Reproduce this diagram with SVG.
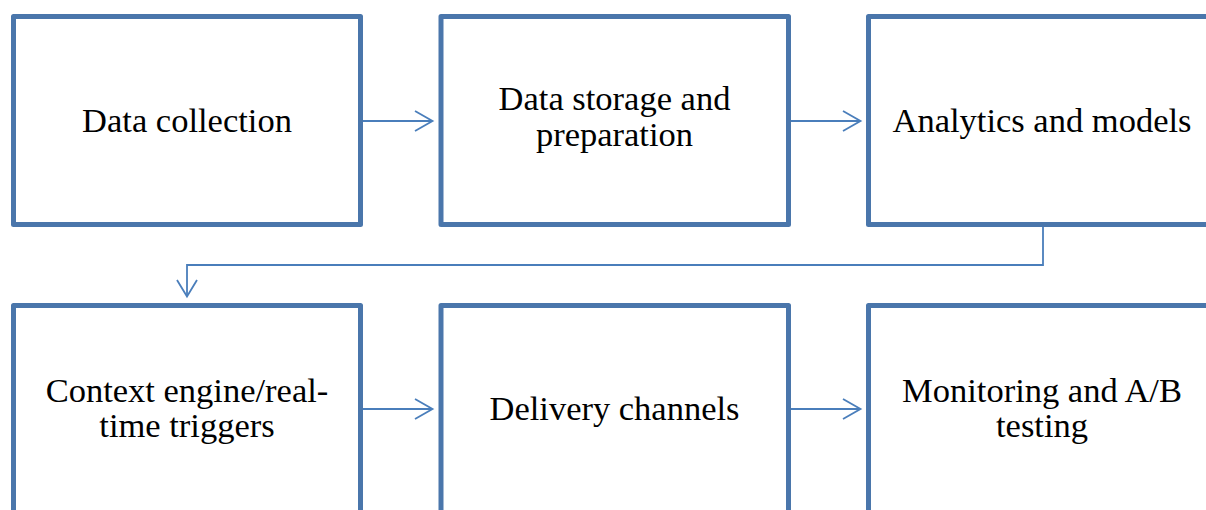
<svg xmlns="http://www.w3.org/2000/svg" width="1206" height="510" viewBox="0 0 1206 510">
  <style>
    .box { fill: #ffffff; stroke: #4a76ab; stroke-width: 5; stroke-linejoin: round; }
    .label { font-family: "Liberation Serif", "Times New Roman", serif; font-size: 34.5px; fill: #000000; text-anchor: middle; }
    .conn { fill: none; stroke: #4a7ebb; stroke-width: 1.8; }
  </style>
  <rect width="1206" height="510" fill="#ffffff"/>

  <!-- connectors -->
  <g id="connectors">
    <path class="conn" d="M363 121 H432"/>
    <path class="conn" d="M415 111 L432.5 121 L415 131"/>
    <path class="conn" d="M791 121 H860"/>
    <path class="conn" d="M843 111 L860.5 121 L843 131"/>
    <path class="conn" d="M1043 227 V265 H187 V296"/>
    <path class="conn" d="M177 280 L187 296.5 L197 280"/>
    <path class="conn" d="M363 409 H432"/>
    <path class="conn" d="M415 399 L432.5 409 L415 419"/>
    <path class="conn" d="M791 409 H860"/>
    <path class="conn" d="M843 399 L860.5 409 L843 419"/>
  </g>

  <!-- row 1 -->
  <g id="data-collection">
    <rect class="box" x="13.5" y="16.5" width="347" height="208"/>
    <text class="label" x="187" y="132">Data collection</text>
  </g>
  <g id="data-storage">
    <rect class="box" x="441" y="16.5" width="347.5" height="208"/>
    <text class="label" x="614.5" y="110">Data storage and</text>
    <text class="label" x="614.5" y="146">preparation</text>
  </g>
  <g id="analytics">
    <rect class="box" x="868.5" y="16.5" width="347" height="208"/>
    <text class="label" x="1042" y="132">Analytics and models</text>
  </g>

  <!-- row 2 -->
  <g id="context-engine">
    <rect class="box" x="13.5" y="305.5" width="347" height="208"/>
    <text class="label" x="187" y="401.5">Context engine/real-</text>
    <text class="label" x="187" y="437">time triggers</text>
  </g>
  <g id="delivery-channels">
    <rect class="box" x="441" y="305.5" width="347.5" height="208"/>
    <text class="label" x="614.5" y="420">Delivery channels</text>
  </g>
  <g id="monitoring">
    <rect class="box" x="868.5" y="305.5" width="347" height="208"/>
    <text class="label" x="1042" y="401.5">Monitoring and A/B</text>
    <text class="label" x="1042" y="437">testing</text>
  </g>
</svg>
